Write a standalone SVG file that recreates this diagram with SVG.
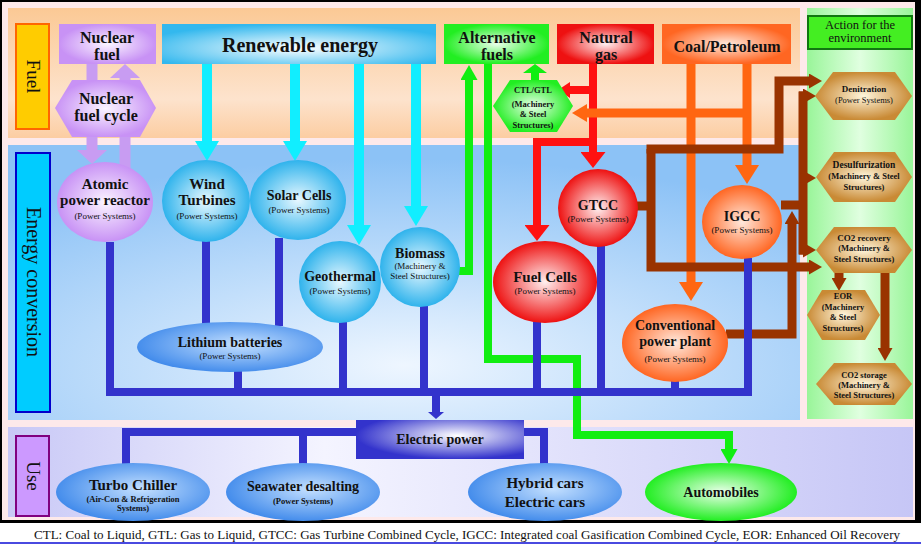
<svg xmlns="http://www.w3.org/2000/svg" width="921" height="545" viewBox="0 0 921 545">
<defs>
<style>
text{font-family:"Liberation Serif","Times New Roman","DejaVu Serif",serif;text-anchor:middle;fill:#111}
.b{font-weight:bold}
.t16{font-size:16px;font-weight:bold}
.t15{font-size:15px;font-weight:bold}
.t14{font-size:14px;font-weight:bold}
.s9{font-size:9px}
.s8{font-size:8.5px}
.side{font-size:19px;fill:#111}
.cy{stroke:#11eeff;stroke-width:10;fill:none}
.pu{stroke:#c89cf2;stroke-width:11;fill:none}
.gr{stroke:#11ee11;stroke-width:8;fill:none}
.rd{stroke:#ff1111;stroke-width:8;fill:none}
.or{stroke:#ff6611;stroke-width:9;fill:none}
.br{stroke:#993300;stroke-width:9;fill:none}
.bl{stroke:#3333cc;stroke-width:8;fill:none}
</style>
<marker id="hCy" markerUnits="userSpaceOnUse" viewBox="0 0 20 24" markerWidth="20" markerHeight="24" refX="0" refY="12" orient="auto"><path d="M0,0L20,12L0,24z" fill="#11eeff"/></marker>
<marker id="hPu" markerUnits="userSpaceOnUse" viewBox="0 0 14 30" markerWidth="14" markerHeight="30" refX="0" refY="15" orient="auto"><path d="M0,0L14,15L0,30z" fill="#c89cf2"/></marker>
<marker id="hGr" markerUnits="userSpaceOnUse" viewBox="0 0 15 17" markerWidth="15" markerHeight="17" refX="0" refY="8.5" orient="auto"><path d="M0,0L15,8.5L0,17z" fill="#11ee11"/></marker>
<marker id="hGr2" markerUnits="userSpaceOnUse" viewBox="0 0 9 24" markerWidth="9" markerHeight="24" refX="0" refY="12" orient="auto"><path d="M0,0L9,12L0,24z" fill="#11ee11"/></marker>
<marker id="hRd" markerUnits="userSpaceOnUse" viewBox="0 0 16 25" markerWidth="16" markerHeight="25" refX="0" refY="12.5" orient="auto"><path d="M0,0L16,12.5L0,25z" fill="#ff1111"/></marker>
<marker id="hRd2" markerUnits="userSpaceOnUse" viewBox="0 0 12 16" markerWidth="12" markerHeight="16" refX="0" refY="8" orient="auto"><path d="M0,0L12,8L0,16z" fill="#ff1111"/></marker>
<marker id="hOr" markerUnits="userSpaceOnUse" viewBox="0 0 19 24" markerWidth="19" markerHeight="24" refX="0" refY="12" orient="auto"><path d="M0,0L19,12L0,24z" fill="#ff6611"/></marker>
<marker id="hOr2" markerUnits="userSpaceOnUse" viewBox="0 0 15 18" markerWidth="15" markerHeight="18" refX="0" refY="9" orient="auto"><path d="M0,0L15,9L0,18z" fill="#ff6611"/></marker>
<marker id="hBr" markerUnits="userSpaceOnUse" viewBox="0 0 13 15" markerWidth="13" markerHeight="15" refX="0" refY="7.5" orient="auto"><path d="M0,0L13,7.5L0,15z" fill="#993300"/></marker>
<marker id="hBl" markerUnits="userSpaceOnUse" viewBox="0 0 7 16" markerWidth="7" markerHeight="16" refX="0" refY="8" orient="auto"><path d="M0,0L7,8L0,16z" fill="#3333cc"/></marker>
<linearGradient id="gFuelBand" x1="0" y1="0" x2="0" y2="1"><stop offset="0" stop-color="#fbc995"/><stop offset="0.7" stop-color="#fde3cd"/><stop offset="1" stop-color="#fccda2"/></linearGradient>
<radialGradient id="gConvBand" cx="0.5" cy="0.8" r="0.75"><stop offset="0" stop-color="#eef6ff"/><stop offset="1" stop-color="#8cc2f6"/></radialGradient>
<linearGradient id="gEnvBand" x1="0" y1="0" x2="1" y2="0"><stop offset="0" stop-color="#99f599"/><stop offset="0.5" stop-color="#e0ffe0"/><stop offset="1" stop-color="#99f599"/></linearGradient>
<linearGradient id="gUseBand" x1="0" y1="0" x2="1" y2="0"><stop offset="0" stop-color="#c8c8f6"/><stop offset="0.35" stop-color="#f4f4ff"/><stop offset="1" stop-color="#c6c6f6"/></linearGradient>
<radialGradient id="gPur"><stop offset="0" stop-color="#fbf4ff"/><stop offset="1" stop-color="#c892f5"/></radialGradient>
<radialGradient id="gCyan"><stop offset="0" stop-color="#e8f8ff"/><stop offset="1" stop-color="#2fb3ec"/></radialGradient>
<radialGradient id="gRenew" cx="0.5" cy="0.6" r="0.6"><stop offset="0" stop-color="#ffffff"/><stop offset="1" stop-color="#33b8ee"/></radialGradient>
<radialGradient id="gRed"><stop offset="0" stop-color="#fff0f0"/><stop offset="1" stop-color="#ee1111"/></radialGradient>
<radialGradient id="gOr"><stop offset="0" stop-color="#ffe9dd"/><stop offset="1" stop-color="#ff6622"/></radialGradient>
<radialGradient id="gGreen"><stop offset="0" stop-color="#eaffea"/><stop offset="1" stop-color="#22ee22"/></radialGradient>
<radialGradient id="gTan"><stop offset="0" stop-color="#fff6dc"/><stop offset="1" stop-color="#c98a35"/></radialGradient>
<radialGradient id="gBlue" cx="0.55" cy="0.45" r="0.6"><stop offset="0" stop-color="#c4e0ff"/><stop offset="1" stop-color="#3a86ea"/></radialGradient>
<radialGradient id="gElec" cx="0.6" cy="0.4" r="0.6"><stop offset="0" stop-color="#ffffff"/><stop offset="1" stop-color="#3333cc"/></radialGradient>
</defs>

<!-- frame and bands -->
<rect x="0" y="0" width="921" height="523" fill="#000"/>
<rect x="2" y="2" width="913" height="518" fill="#fde9ea"/>
<rect x="0" y="523" width="921" height="22" fill="#fff"/>
<rect x="0" y="542" width="921" height="2" fill="#4a4ae0"/>
<rect x="8" y="8" width="792" height="130" fill="url(#gFuelBand)"/>
<rect x="8" y="145" width="792" height="275" fill="url(#gConvBand)"/>
<rect x="807" y="8" width="106" height="411" fill="url(#gEnvBand)"/>
<rect x="8" y="427" width="905" height="90" fill="url(#gUseBand)"/>

<g id="label-fuel"><rect x="16" y="24" width="33" height="105" fill="#ffcc00" stroke="#ff6600" stroke-width="2"/><text class="side" transform="translate(27,76.5) rotate(90)">Fuel</text></g>
<g id="label-conversion"><rect x="16" y="153" width="34" height="259" fill="#00ccff" stroke="#0000cc" stroke-width="2"/><text class="side" transform="translate(26.5,282) rotate(90)" style="font-size:20px">Energy conversion</text></g>
<g id="label-use"><rect x="16" y="436" width="33" height="80" fill="#cc99ff" stroke="#800080" stroke-width="2"/><text class="side" transform="translate(26.5,476) rotate(90)">Use</text></g>

<!-- connectors -->
<g id="connectors">
<path class="pu" d="M92,64V84"/>
<path class="pu" d="M92,135V150" marker-end="url(#hPu)"/>
<path class="pu" d="M125,172V135"/>
<path class="pu" d="M125,84V78" marker-end="url(#hPu)"/>

<path class="cy" d="M207,64V141" marker-end="url(#hCy)"/>
<path class="cy" d="M295,64V141" marker-end="url(#hCy)"/>
<path class="cy" d="M359,64V225" marker-end="url(#hCy)"/>
<path class="cy" d="M416,64V206" marker-end="url(#hCy)"/>

<path class="gr" d="M458,271H469V80" marker-end="url(#hGr)"/>
<path class="gr" d="M535,82V73" marker-end="url(#hGr2)"/>
<path class="gr" d="M488,64V359H577V435H729V449" marker-end="url(#hGr)"/>

<path class="rd" d="M593,64V152" marker-end="url(#hRd)"/>
<path class="rd" d="M597,90H570" marker-end="url(#hRd2)"/>
<path class="rd" d="M597,142H537V225" marker-end="url(#hRd)"/>

<path class="or" d="M691,64V282" marker-end="url(#hOr)"/>
<path class="or" d="M747,64V165" marker-end="url(#hOr)"/>
<path class="or" d="M751,113H587" marker-end="url(#hOr2)"/>

<path class="br" d="M636,206H651"/>
<path class="br" d="M651,149V267H809" marker-end="url(#hBr)"/>
<path class="br" d="M646.5,149H779V81H809" marker-end="url(#hBr)"/>
<path class="br" d="M781,205H803"/>
<path class="br" d="M803,91.5V254.5"/>
<path class="br" d="M799,96H803" marker-end="url(#hBr)"/>
<path class="br" d="M799,178H803" marker-end="url(#hBr)"/>
<path class="br" d="M799,250H803" marker-end="url(#hBr)"/>
<path class="br" d="M726,334H792V224" marker-end="url(#hBr)"/>
<path class="br" d="M839,271V278" marker-end="url(#hBr)"/>
<path class="br" d="M885,271V348" marker-end="url(#hBr)"/>

<path class="bl" d="M110,242V392H748V258"/>
<path class="bl" d="M206,240V324"/>
<path class="bl" d="M279,238V326"/>
<path class="bl" d="M238,371V392"/>
<path class="bl" d="M343,322V392"/>
<path class="bl" d="M424,306V392"/>
<path class="bl" d="M537,322V392"/>
<path class="bl" d="M601,245V392"/>
<path class="bl" d="M675,380V392"/>
<path class="bl" d="M436,396V412" marker-end="url(#hBl)"/>
<path class="bl" d="M356,432H126V464"/>
<path class="bl" d="M303,432V464"/>
<path class="bl" d="M524,432H544V464"/>
</g>

<!-- Fuel row -->
<g id="nuclear-fuel"><rect x="59" y="24" width="97" height="40" fill="url(#gPur)"/><text class="t16" x="107" y="43">Nuclear</text><text class="t16" x="107" y="60">fuel</text></g>
<g id="nuclear-fuel-cycle"><polygon points="55,108 72,80 140,80 156,108 140,137 72,137" fill="url(#gPur)"/><text class="t16" x="106" y="104">Nuclear</text><text class="t16" x="106" y="121">fuel cycle</text></g>
<g id="renewable-energy"><rect x="162" y="24" width="274" height="40" fill="url(#gRenew)"/><text class="b" x="300" y="52" style="font-size:20px">Renewable energy</text></g>
<g id="alternative-fuels"><rect x="444" y="24" width="105" height="40" fill="url(#gGreen)"/><text class="t16" x="497" y="43">Alternative</text><text class="t16" x="497" y="60">fuels</text></g>
<g id="natural-gas"><rect x="557" y="24" width="97" height="40" fill="url(#gRed)"/><text class="t16" x="606" y="43">Natural</text><text class="t16" x="606" y="60">gas</text></g>
<g id="coal-petroleum"><rect x="662" y="24" width="129" height="40" fill="url(#gOr)"/><text class="t16" x="727" y="52">Coal/Petroleum</text></g>
<g id="ctl-gtl"><polygon points="493,106 510,80 557,80 573,106 557,132 510,132" fill="url(#gGreen)"/><text class="b" x="533" y="93" style="font-size:8.5px">CTL/GTL</text><text class="s8 b" x="533" y="107">(Machinery</text><text class="s8 b" x="533" y="117">&amp; Steel</text><text class="s8 b" x="533" y="128">Structures)</text></g>

<!-- Environment -->
<g id="action-environment"><rect x="808" y="16" width="104" height="33" fill="#44ee22" stroke="#117711" stroke-width="2"/><text x="860" y="29" style="font-size:12.5px">Action for the</text><text x="860" y="42" style="font-size:12.5px">environment</text></g>
<g id="denitration"><polygon points="815,96 833,72 895,72 912,96 895,120 833,120" fill="url(#gTan)"/><text class="s9 b" x="864" y="92">Denitration</text><text class="s8" x="864" y="103">(Power Systems)</text></g>
<g id="desulfurization"><polygon points="816,177 834,152 895,152 912,177 895,202 834,202" fill="url(#gTan)"/><text class="b" x="864" y="168" style="font-size:9.5px">Desulfurization</text><text class="s8 b" x="864" y="179">(Machinery &amp; Steel</text><text class="s8 b" x="864" y="190">Structures)</text></g>
<g id="co2-recovery"><polygon points="816,250 834,227 895,227 912,250 895,273 834,273" fill="url(#gTan)"/><text class="s9 b" x="864" y="241">CO2 recovery</text><text class="s8 b" x="864" y="251">(Machinery &amp;</text><text class="s8 b" x="864" y="262">Steel Structures)</text></g>
<g id="eor"><polygon points="807,315 822,290 865,290 880,315 865,340 822,340" fill="url(#gTan)"/><text class="s8 b" x="843" y="299">EOR</text><text class="s8 b" x="843" y="310">(Machinery</text><text class="s8 b" x="843" y="320">&amp; Steel</text><text class="s8 b" x="843" y="331">Structures)</text></g>
<g id="co2-storage"><polygon points="816,384 834,363 895,363 912,384 895,405 834,405" fill="url(#gTan)"/><text class="s8 b" x="864" y="378">CO2 storage</text><text class="s8 b" x="864" y="388">(Machinery &amp;</text><text class="s8 b" x="864" y="398">Steel Structures)</text></g>

<!-- Energy conversion -->
<g id="atomic-power-reactor"><ellipse cx="105" cy="202" rx="48" ry="40" fill="url(#gPur)"/><text class="t15" x="105" y="189">Atomic</text><text class="t15" x="105" y="205">power reactor</text><text class="s9" x="105" y="219">(Power Systems)</text></g>
<g id="wind-turbines"><ellipse cx="206" cy="201" rx="44" ry="41" fill="url(#gCyan)"/><text class="t15" x="207" y="189">Wind</text><text class="t15" x="207" y="205">Turbines</text><text class="s9" x="207" y="219">(Power Systems)</text></g>
<g id="solar-cells"><ellipse cx="298" cy="200" rx="48" ry="40" fill="url(#gCyan)"/><text class="t14" x="299" y="200">Solar Cells</text><text class="s9" x="299" y="213">(Power Systems)</text></g>
<g id="geothermal"><ellipse cx="340" cy="282" rx="41" ry="41" fill="url(#gCyan)"/><text class="t14" x="340" y="281">Geothermal</text><text class="s9" x="340" y="294">(Power Systems)</text></g>
<g id="biomass"><ellipse cx="420" cy="267" rx="40" ry="40" fill="url(#gCyan)"/><text class="t14" x="420" y="258">Biomass</text><text class="s9" x="420" y="269">(Machinery &amp;</text><text class="s9" x="420" y="279">Steel Structures)</text></g>
<g id="lithium-batteries"><ellipse cx="230" cy="347" rx="93" ry="25" fill="url(#gBlue)"/><text class="t14" x="230" y="347">Lithium batteries</text><text class="s9" x="230" y="359">(Power Systems)</text></g>
<g id="fuel-cells"><ellipse cx="545" cy="282" rx="52" ry="41" fill="url(#gRed)"/><text class="t15" x="545" y="282">Fuel Cells</text><text class="s9" x="545" y="294">(Power Systems)</text></g>
<g id="gtcc"><ellipse cx="598" cy="208" rx="40" ry="39" fill="url(#gRed)"/><text class="t14" x="598" y="210">GTCC</text><text class="s9" x="598" y="222">(Power Systems)</text></g>
<g id="igcc"><ellipse cx="742" cy="222" rx="40" ry="37" fill="url(#gOr)"/><text class="t14" x="742" y="221">IGCC</text><text class="s9" x="742" y="233">(Power Systems)</text></g>
<g id="conventional-power-plant"><ellipse cx="675" cy="343" rx="53" ry="39" fill="url(#gOr)"/><text class="t14" x="675" y="330">Conventional</text><text class="t14" x="675" y="346">power plant</text><text class="s9" x="675" y="362">(Power Systems)</text></g>

<!-- Use -->
<g id="electric-power"><rect x="356" y="420" width="168" height="39" fill="url(#gElec)"/><text class="t14" x="440" y="444">Electric power</text></g>
<g id="turbo-chiller"><ellipse cx="133" cy="492" rx="77" ry="29" fill="url(#gBlue)"/><text class="t15" x="133" y="490">Turbo Chiller</text><text class="s8 b" x="133" y="502">(Air-Con &amp; Refrigeration</text><text class="s8 b" x="133" y="511">Systems)</text></g>
<g id="seawater-desalting"><ellipse cx="303" cy="492" rx="77" ry="29" fill="url(#gBlue)"/><text class="t14" x="303" y="491">Seawater desalting</text><text class="s8 b" x="303" y="504">(Power Systems)</text></g>
<g id="hybrid-cars"><ellipse cx="545" cy="492" rx="77" ry="29" fill="url(#gBlue)"/><text class="t15" x="545" y="488">Hybrid cars</text><text class="t15" x="545" y="507">Electric cars</text></g>
<g id="automobiles"><ellipse cx="721" cy="492" rx="76" ry="29" fill="url(#gGreen)"/><text class="t14" x="721" y="497">Automobiles</text></g>

<text x="467" y="539" style="font-size:13px" textLength="866" lengthAdjust="spacingAndGlyphs">CTL: Coal to Liquid,  GTL: Gas to Liquid,   GTCC: Gas Turbine Combined Cycle,   IGCC: Integrated coal Gasification Combined Cycle,   EOR: Enhanced Oil Recovery</text>
</svg>
